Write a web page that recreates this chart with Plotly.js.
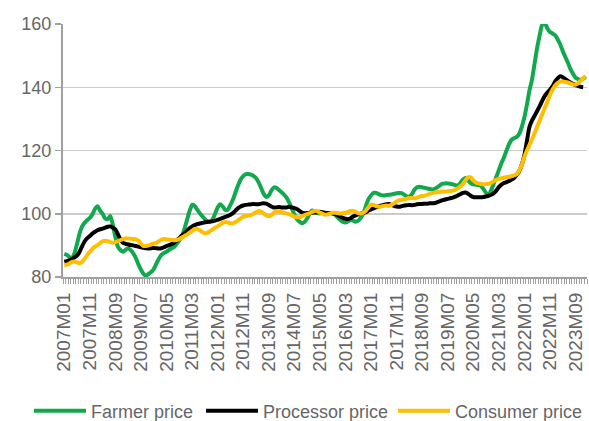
<!DOCTYPE html>
<html>
<head>
<meta charset="utf-8">
<script src="https://cdn.plot.ly/plotly-3.0.1.min.js"></script>
<style>html,body{margin:0;padding:0;background:#fff;}#chart{width:589px;height:421px;}</style>
</head>
<body>
<div id="chart"></div>
<script>
// Monthly categories 2007M01 .. 2024M01
var startYear = 2007, nMonths = 205;
var categories = [];
for (var i = 0; i < nMonths; i++) {
  var y = startYear + Math.floor(i / 12), m = (i % 12) + 1;
  categories.push(y + 'M' + (m < 10 ? '0' + m : m));
}
var tickLabels = ['2007M01','2007M11','2008M09','2009M07','2010M05','2011M03','2012M01','2012M11',
  '2013M09','2014M07','2015M05','2016M03','2017M01','2017M11','2018M09','2019M07','2020M05',
  '2021M03','2022M01','2022M11','2023M09'];

var farmerPrice = [
  87.3, 87.0, 86.3, 85.9, 87.5, 90.5, 93.8, 96.0, 97.2, 98.0, 98.7, 99.8,
  101.5, 102.4, 101.0, 100.0, 98.5, 98.3, 99.3, 96.5, 92.5, 89.5, 88.5, 88.0,
  88.6, 89.1, 88.5, 87.5, 86.0, 84.0, 82.3, 81.0, 80.4, 81.0, 81.6, 82.5,
  84.2, 85.8, 87.0, 87.6, 88.0, 88.6, 89.1, 89.5, 90.5, 91.6, 92.8, 95.2,
  98.0, 100.8, 102.8, 102.5, 101.3, 100.2, 99.2, 98.3, 97.6, 97.5, 98.2, 100.0,
  102.0, 103.0, 102.3, 101.2, 101.3, 102.8, 104.5, 106.8, 109.0, 110.8, 111.9, 112.5,
  112.6, 112.4, 112.0, 111.3, 110.0, 108.2, 106.3, 105.3, 105.8, 107.3, 108.3, 108.2,
  107.5, 106.8, 106.0, 105.0, 103.5, 101.7, 99.8, 98.3, 97.5, 97.0, 97.4, 98.5,
  100.0, 101.0, 100.5, 100.2, 100.1, 100.3, 100.1, 100.0, 100.2, 100.1, 99.6, 98.8,
  98.0, 97.4, 97.2, 97.6, 98.0, 97.8, 97.5, 97.8, 98.7, 100.1, 102.5, 104.6,
  105.8, 106.6, 106.6, 106.2, 105.9, 105.8, 105.9, 106.0, 106.1, 106.3, 106.5, 106.6,
  106.5, 106.0, 105.5, 105.4, 106.2, 107.6, 108.4, 108.5, 108.4, 108.2, 108.0, 107.8,
  107.7, 107.9, 108.4, 109.0, 109.5, 109.6, 109.6, 109.5, 109.3, 109.0, 108.9, 109.8,
  110.8, 111.3, 110.6, 109.7, 109.3, 109.2, 109.1, 108.8, 107.8, 106.6, 106.0, 107.5,
  109.5, 111.6, 113.8, 116.0, 117.8, 120.0, 122.0, 123.4, 123.9, 124.3, 125.3, 127.5,
  130.5, 134.5, 139.0, 142.5, 147.5, 152.5, 156.5, 159.8, 160.2, 158.6, 157.5, 157.0,
  156.5, 155.2, 153.6, 151.5, 149.6, 147.8, 145.8, 144.3, 143.0, 142.6, 142.4, 142.7,
  143.3
];

var processorPrice = [
  84.8, 85.0, 85.3, 85.7, 86.2, 86.8, 88.0, 89.8, 91.3, 92.3, 93.0, 93.7,
  94.3, 94.8, 95.1, 95.3, 95.6, 95.9, 96.0, 95.6, 95.0, 93.5, 91.8, 90.8,
  90.5, 90.3, 90.1, 90.0, 89.8, 89.6, 89.4, 89.2, 89.1, 89.0, 89.1, 89.2,
  89.1, 89.0, 89.1, 89.4, 89.8, 90.1, 90.4, 90.8, 91.5, 92.3, 93.1, 93.8,
  94.6, 95.4, 96.0, 96.4, 96.7, 96.9, 97.1, 97.3, 97.4, 97.5, 97.6, 97.8,
  98.1, 98.4, 98.7, 99.0, 99.3, 99.7, 100.2, 101.0, 101.8, 102.3, 102.6, 102.8,
  102.9, 103.0, 103.1, 103.0, 103.0, 103.2, 103.3, 103.2, 102.8, 102.3, 102.0, 102.0,
  102.1, 102.0, 102.0, 102.0, 102.2, 102.0, 101.8, 101.5, 100.9, 100.4, 100.2, 100.2,
  100.3, 100.3, 100.4, 100.5, 100.6, 100.5, 100.3, 100.2, 100.2, 100.1, 99.9, 99.5,
  99.1, 98.7, 98.4, 98.3, 98.6, 99.1, 99.5, 99.8, 100.0, 100.2, 100.5, 101.0,
  101.4, 101.7, 102.0, 102.3, 102.6, 102.8, 103.0, 103.1, 102.8, 102.5, 102.3, 102.2,
  102.4, 102.6, 102.7, 102.8, 102.7, 102.8, 103.0, 103.1, 103.1, 103.2, 103.2, 103.3,
  103.3, 103.4, 103.7, 104.0, 104.3, 104.5, 104.7, 104.9, 105.1, 105.4, 105.8, 106.2,
  106.6, 106.7, 106.3, 105.7, 105.3, 105.2, 105.2, 105.2, 105.3, 105.5, 105.7, 106.0,
  106.5, 107.3, 108.4, 109.2, 109.7, 110.0, 110.4, 110.8, 111.3, 112.3, 113.5, 115.5,
  118.5, 123.0, 127.5, 129.5, 131.0, 132.5, 134.0, 135.8, 137.3, 138.3, 139.2, 140.3,
  141.8, 142.8, 143.5, 143.2, 142.6, 142.0, 141.5, 141.1, 140.7, 140.4, 140.1, 140.0,
  null
];

var consumerPrice = [
  83.8, 83.9, 84.3, 84.8, 84.9, 84.6, 84.4, 84.8, 85.8, 87.0, 88.0, 88.9,
  89.6, 90.1, 90.7, 91.3, 91.5, 91.3, 91.0, 90.8, 91.0, 91.3, 91.7, 92.0,
  92.2, 92.2, 92.1, 92.0, 91.9, 91.5, 90.5, 89.8, 89.8, 90.0, 90.3, 90.6,
  90.8, 91.3, 91.8, 92.0, 91.9, 91.8, 91.7, 91.6, 91.7, 92.0, 92.5, 93.0,
  93.4, 94.0, 94.6, 95.1, 95.2, 94.8, 94.2, 93.8, 94.0, 94.5, 95.0, 95.6,
  96.0, 96.6, 97.2, 97.4, 97.2, 97.0, 97.0, 97.4, 97.9, 98.5, 99.0, 99.3,
  99.4, 99.6, 100.0, 100.5, 100.9, 100.7, 100.1, 99.5, 99.2, 99.5, 100.3, 100.8,
  100.7, 100.5, 100.3, 100.1, 99.9, 99.5, 99.1, 98.9, 98.9, 99.2, 99.6, 99.9,
  100.2, 100.6, 100.9, 100.8, 100.4, 100.0, 99.7, 99.8, 100.1, 100.3, 100.3, 100.2,
  100.1, 100.2, 100.3, 100.6, 100.9, 100.9, 100.6, 100.2, 100.0, 100.3, 101.0, 102.0,
  102.9, 102.8, 102.4, 102.2, 102.3, 102.5, 102.6, 102.5, 102.8, 103.3, 103.9, 104.3,
  104.4, 104.5, 104.8, 105.0, 105.0, 104.9, 105.1, 105.4, 105.6, 105.7, 106.0, 106.3,
  106.6, 106.7, 106.8, 106.9, 107.0, 107.0, 107.1, 107.2, 107.3, 107.6, 108.1, 108.7,
  109.5, 110.6, 111.5, 111.5, 110.6, 109.9, 109.6, 109.4, 109.3, 109.4, 109.5, 109.8,
  110.3, 110.7, 111.0, 111.2, 111.4, 111.6, 111.7, 111.9, 112.1, 112.5, 113.7, 115.5,
  118.0, 120.0, 121.8, 123.5, 125.5, 127.5, 129.5, 131.5, 133.5, 135.5, 137.5, 139.2,
  140.5, 141.3, 141.8, 141.8, 141.7, 141.5, 141.2, 140.9, 140.8, 141.2, 142.0, 142.8,
  143.6
];

var seriesNames = ['Farmer price', 'Processor price', 'Consumer price'];
var seriesColors = ['#12a84e', '#000000', '#ffbf00'];
var seriesData = [farmerPrice, processorPrice, consumerPrice];
var legendIds = ['legend', 'legend2', 'legend3'];
var legendLeft = [29, 201, 393];   // container px of each legend entry

var xIdx = categories.map(function (c, i) { return i; });
var traces = seriesData.map(function (vals, k) {
  return {
    type: 'scatter', mode: 'lines', name: seriesNames[k], legend: legendIds[k],
    x: xIdx, y: vals, text: categories,
    line: {color: seriesColors[k], width: 4, shape: 'spline', smoothing: 0.6},
    hovertemplate: '%{text}: %{y}<extra>' + seriesNames[k] + '</extra>'
  };
});

var fontFam = 'Liberation Sans, Arial, sans-serif';
var grey = '#666666';
var W = 589, H = 421;
var layout = {
  width: W, height: H,
  margin: {l: 63, r: 2, t: 24, b: 144},
  paper_bgcolor: '#ffffff', plot_bgcolor: '#ffffff',
  font: {family: fontFam, size: 18, color: grey},
  showlegend: true,
  xaxis: {
    type: 'linear', range: [-0.5, nMonths - 0.5],
    tickmode: 'array',
    tickvals: tickLabels.map(function (t) { return categories.indexOf(t); }),
    ticktext: tickLabels, tickangle: -90,
    ticks: 'outside', ticklen: 6, tickcolor: 'rgba(0,0,0,0)',
    tickfont: {family: fontFam, size: 19, color: grey},
    showgrid: false, zeroline: false,
    showline: true, linecolor: '#a0a0a0', linewidth: 2,
    minor: {tickmode: 'linear', tick0: -0.5, dtick: 1, ticks: 'outside', ticklen: 5, tickwidth: 1, tickcolor: '#a0a0a0', showgrid: false}
  },
  yaxis: {
    range: [80, 160], tickmode: 'linear', tick0: 80, dtick: 20,
    ticks: 'outside', ticklen: 6, tickwidth: 1.5, tickcolor: '#a0a0a0',
    tickfont: {family: fontFam, size: 18, color: grey},
    showgrid: true, gridcolor: '#cccccc', gridwidth: 1.5,
    zeroline: false, showline: true, linecolor: '#a0a0a0', linewidth: 2
  }
};
legendIds.forEach(function (id, k) {
  layout[id] = {
    orientation: 'h', xref: 'container', x: legendLeft[k] / W, xanchor: 'left',
    yref: 'container', y: (H - 411) / H, yanchor: 'middle',
    font: {family: fontFam, size: 18, color: grey}, itemwidth: 52,
    bgcolor: 'rgba(0,0,0,0)', borderwidth: 0
  };
});

Plotly.newPlot('chart', traces, layout, {displayModeBar: false, staticPlot: true});
</script>
</body>
</html>
